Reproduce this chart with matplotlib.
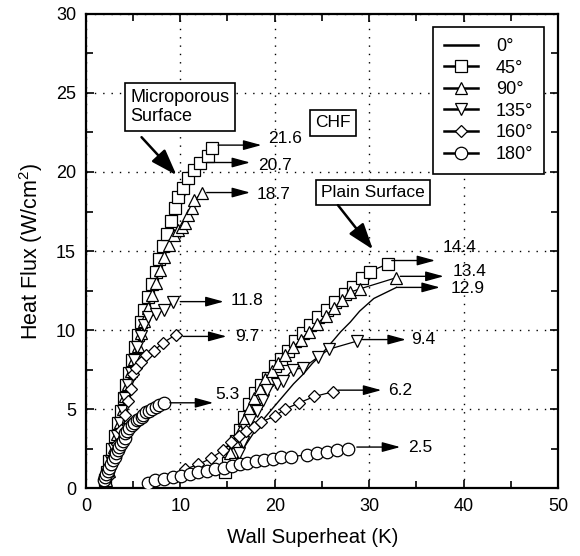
import matplotlib
matplotlib.use("Agg")
import matplotlib.pyplot as plt
from matplotlib.lines import Line2D

plt.rcParams['font.family'] = ['Liberation Sans', 'DejaVu Sans']
plt.rcParams['mathtext.default'] = 'regular'

# ---- microporous surface ----
mp_0_x = [2.1, 2.4, 2.7, 3.0, 3.3, 3.6, 3.9, 4.2, 4.5, 4.8, 5.1, 5.5, 5.9, 6.3, 6.7, 7.1,
          7.5, 7.9, 8.3, 8.7, 9.1, 9.5, 9.9, 10.4, 11.0, 11.6, 12.3]
mp_0_y = [0.5, 1.1, 1.8, 2.6, 3.4, 4.2, 5.0, 5.8, 6.6, 7.4, 8.2, 9.0, 9.8, 10.6, 11.4, 12.2,
          13.0, 13.8, 14.6, 15.4, 16.2, 16.9, 17.6, 18.4, 19.2, 19.9, 20.6]
mp_45_x = [2.0, 2.2, 2.5, 2.8, 3.1, 3.4, 3.7, 4.0, 4.3, 4.6, 4.9, 5.2, 5.5, 5.8, 6.2, 6.6,
           7.0, 7.4, 7.8, 8.2, 8.6, 9.0, 9.4, 9.8, 10.3, 10.8, 11.5, 12.1, 12.9, 13.4]
mp_45_y = [0.5, 1.0, 1.7, 2.5, 3.3, 4.1, 4.9, 5.7, 6.5, 7.3, 8.1, 8.9, 9.7, 10.5, 11.3, 12.1,
           12.9, 13.7, 14.5, 15.3, 16.1, 16.9, 17.7, 18.4, 19.0, 19.6, 20.1, 20.6, 21.0, 21.5]
mp_90_x = [2.1, 2.4, 2.7, 3.0, 3.3, 3.6, 3.9, 4.2, 4.5, 4.8, 5.1, 5.5, 5.8, 6.2, 6.6, 7.0,
           7.4, 7.9, 8.3, 8.8, 9.3, 9.8, 10.2, 10.5, 10.8, 11.2, 11.5, 12.3]
mp_90_y = [0.5, 1.1, 1.8, 2.6, 3.4, 4.2, 5.0, 5.8, 6.6, 7.4, 8.2, 9.0, 9.8, 10.6, 11.4, 12.2,
           13.0, 13.8, 14.6, 15.4, 16.0, 16.3, 16.5, 16.8, 17.3, 17.7, 18.2, 18.7]
mp_135_x = [2.1, 2.4, 2.7, 3.0, 3.3, 3.6, 3.9, 4.2, 4.5, 4.8, 5.1, 5.4, 5.8, 6.2, 6.6,
            7.4, 8.3, 9.2]
mp_135_y = [0.4, 1.0, 1.7, 2.5, 3.3, 4.1, 4.9, 5.7, 6.5, 7.3, 8.1, 8.9, 9.6, 10.3, 10.8,
            11.0, 11.3, 11.8]
mp_160_x = [2.3, 2.6, 2.9, 3.3, 3.7, 4.1, 4.5, 4.8, 5.0, 5.3, 5.8, 6.4, 7.2, 8.2, 9.5]
mp_160_y = [0.7, 1.3, 2.0, 2.8, 3.7, 4.6, 5.5, 6.3, 7.2, 7.6, 8.0, 8.4, 8.7, 9.2, 9.7]
mp_180_x = [1.9, 2.0, 2.1, 2.3, 2.5, 2.7, 2.9, 3.1, 3.2, 3.4, 3.5, 3.7, 3.9, 4.1, 4.2,
            4.4, 4.6, 4.9, 5.1, 5.4, 5.6, 5.9, 6.1, 6.4, 6.7, 7.0, 7.4, 7.8, 8.3]
mp_180_y = [0.5, 0.7, 0.9, 1.1, 1.3, 1.5, 1.8, 2.0, 2.2, 2.4, 2.6, 2.8, 3.0, 3.2, 3.5,
            3.6, 3.8, 4.0, 4.1, 4.3, 4.4, 4.5, 4.6, 4.8, 4.9, 5.0, 5.15, 5.25, 5.4]

# ---- plain surface ----
pl_0_x = [15.0, 16.0, 17.0, 18.0, 19.0, 20.0, 21.0, 22.0, 23.0, 24.0, 25.0, 26.0, 27.0,
          28.0, 29.0, 30.5, 32.9]
pl_0_y = [0.8, 1.8, 2.8, 3.7, 4.5, 5.2, 5.9, 6.6, 7.2, 7.9, 8.5, 9.2, 9.9, 10.5, 11.2,
          12.0, 12.7]
pl_45_x = [14.7, 15.1, 15.5, 15.9, 16.3, 16.8, 17.3, 17.9, 18.6, 19.3, 20.0, 20.7, 21.4,
           22.1, 23.0, 23.7, 24.6, 25.5, 26.4, 27.4, 28.3, 29.2, 30.1, 32.0]
pl_45_y = [1.0, 1.6, 2.3, 3.0, 3.7, 4.5, 5.3, 6.0, 6.5, 7.0, 7.7, 8.2, 8.7, 9.3, 9.8,
           10.3, 10.8, 11.3, 11.8, 12.3, 12.7, 13.3, 13.7, 14.2]
pl_90_x = [15.3, 15.8, 16.3, 16.8, 17.3, 17.8, 18.4, 19.0, 19.7, 20.4, 21.1, 21.9, 22.8,
           23.6, 24.5, 25.4, 26.3, 27.1, 28.0, 29.0, 32.8]
pl_90_y = [2.2, 2.9, 3.6, 4.3, 5.0, 5.7, 6.3, 6.9, 7.4, 7.9, 8.4, 8.9, 9.4, 9.9, 10.4,
           10.9, 11.4, 11.9, 12.4, 12.6, 13.3]
pl_135_x = [15.8, 16.2, 16.6, 17.0, 17.4, 18.1, 18.8, 19.2, 20.2, 20.9, 21.9, 23.0, 24.6,
            25.8, 28.7]
pl_135_y = [1.5, 2.2, 2.9, 3.7, 4.3, 4.9, 5.6, 6.2, 6.6, 6.8, 7.5, 7.6, 8.3, 8.8, 9.3]
pl_160_x = [10.5, 11.9, 13.3, 14.5, 15.4, 16.2, 17.0, 17.8, 18.6, 20.0, 21.1, 22.6, 24.2,
            26.2]
pl_160_y = [1.2, 1.5, 1.9, 2.4, 2.9, 3.3, 3.6, 3.9, 4.2, 4.55, 5.0, 5.4, 5.8, 6.1]
pl_180_x = [6.6, 7.3, 8.3, 9.2, 10.1, 11.0, 11.9, 12.8, 13.7, 14.6, 15.5, 16.3, 17.1,
            18.0, 18.9, 19.8, 20.7, 21.7, 23.4, 24.5, 25.5, 26.6, 27.8]
pl_180_y = [0.35, 0.5, 0.6, 0.7, 0.8, 0.9, 1.0, 1.1, 1.2, 1.3, 1.4, 1.5, 1.6, 1.7, 1.8,
            1.85, 1.95, 2.0, 2.1, 2.2, 2.3, 2.4, 2.5]

angles = ['0°', '45°', '90°', '135°', '160°', '180°']
markers = [None, 's', '^', 'v', 'D', 'o']
msizes = [0, 8.5, 8.5, 8.5, 6.0, 9.0]

mp_series = [(mp_0_x, mp_0_y), (mp_45_x, mp_45_y), (mp_90_x, mp_90_y),
             (mp_135_x, mp_135_y), (mp_160_x, mp_160_y), (mp_180_x, mp_180_y)]
pl_series = [(pl_0_x, pl_0_y), (pl_45_x, pl_45_y), (pl_90_x, pl_90_y),
             (pl_135_x, pl_135_y), (pl_160_x, pl_160_y), (pl_180_x, pl_180_y)]

# CHF labels: (arrow start x, y, label x, label y, text)
chf_labels = [
    (14.0, 21.7, 19.3, 22.1, '21.6'),
    (12.8, 20.6, 18.2, 20.4, '20.7'),
    (12.8, 18.7, 18.1, 18.6, '18.7'),
    (10.0, 11.8, 15.3, 11.9, '11.8'),
    (10.3, 9.6, 15.8, 9.6, '9.7'),
    (8.9, 5.4, 13.7, 5.9, '5.3'),
    (32.4, 14.4, 37.8, 15.2, '14.4'),
    (33.3, 13.4, 38.8, 13.7, '13.4'),
    (32.9, 12.7, 38.6, 12.6, '12.9'),
    (29.3, 9.4, 34.5, 9.4, '9.4'),
    (26.7, 6.2, 32.0, 6.2, '6.2'),
    (28.7, 2.6, 34.1, 2.6, '2.5'),
]
arrow_len = 4.6

fig = plt.figure(figsize=(5.8, 5.56), dpi=100)
ax = fig.add_axes([0.148, 0.122, 0.814, 0.853])

for series in (mp_series, pl_series):
    for (x, y), m, ms in zip(series, markers, msizes):
        if m is None:
            ax.plot(x, y, color='black', lw=1.0, zorder=3)
        else:
            ax.plot(x, y, color='black', lw=0.9, marker=m, ms=ms,
                    mfc='white', mec='black', mew=0.9, zorder=3)

for x0, y0, tx, ty, s in chf_labels:
    ax.annotate('', xy=(x0 + arrow_len, y0), xytext=(x0, y0),
                arrowprops=dict(arrowstyle='-|>,head_length=1.1,head_width=0.3',
                                color='black', lw=1.0, mutation_scale=10,
                                shrinkA=0, shrinkB=0), zorder=4)
    ax.text(tx, ty, s, fontsize=12.5, ha='left', va='center')

box = dict(boxstyle='square,pad=0.3', fc='white', ec='black', lw=1.2)
ax.text(4.7, 24.1, 'Microporous\nSurface', fontsize=13, ha='left', va='center',
        bbox=box, linespacing=1.2, zorder=5)
ax.text(26.2, 23.1, 'CHF', fontsize=12.5, ha='center', va='center', bbox=box, zorder=5)
ax.text(30.4, 18.7, 'Plain Surface', fontsize=12.5, ha='center', va='center',
        bbox=box, zorder=5)

big_arrow = dict(arrowstyle='-|>,head_length=1.6,head_width=0.55', color='black',
                 lw=1.8, mutation_scale=10, shrinkA=0, shrinkB=0)
ax.annotate('', xy=(9.6, 19.8), xytext=(5.9, 22.2), arrowprops=big_arrow, zorder=5)
ax.annotate('', xy=(30.4, 15.1), xytext=(26.7, 17.9), arrowprops=big_arrow, zorder=5)

ax.set_xlim(0, 50)
ax.set_ylim(0, 30)
ax.set_xticks([0, 10, 20, 30, 40, 50])
ax.set_xticks([5, 15, 25, 35, 45], minor=True)
ax.set_yticks([0, 5, 10, 15, 20, 25, 30])
ax.set_yticks([2.5, 7.5, 12.5, 17.5, 22.5, 27.5], minor=True)
ax.tick_params(which='both', direction='in', top=True, right=True, labelsize=13,
               width=1.2, pad=7)
ax.tick_params(which='major', length=6)
ax.tick_params(which='minor', length=5)
ax.grid(True, which='major', color='black', lw=1.0, linestyle=(0, (1, 5)))
ax.set_axisbelow(True)
for sp in ax.spines.values():
    sp.set_linewidth(1.6)

ax.set_xlabel('Wall Superheat (K)', fontsize=14.7)
ax.xaxis.set_label_coords(0.48, -0.085)
ax.set_ylabel('Heat Flux (W/cm$^{2}$)', fontsize=15.5, labelpad=8)

handles = []
for a, m, ms in zip(angles, markers, msizes):
    handles.append(Line2D([], [], color='black', lw=1.8, marker=m, ms=ms,
                          mfc='white', mec='black', mew=0.9, label=a))
leg = ax.legend(handles=handles, loc='upper right', fontsize=13, handlelength=1.9,
                labelspacing=0.25, borderaxespad=0.75, fancybox=False,
                edgecolor='black', framealpha=1, borderpad=0.6, handletextpad=1.0)
leg.get_frame().set_linewidth(1.2)

fig.savefig('out.png', dpi=100)
